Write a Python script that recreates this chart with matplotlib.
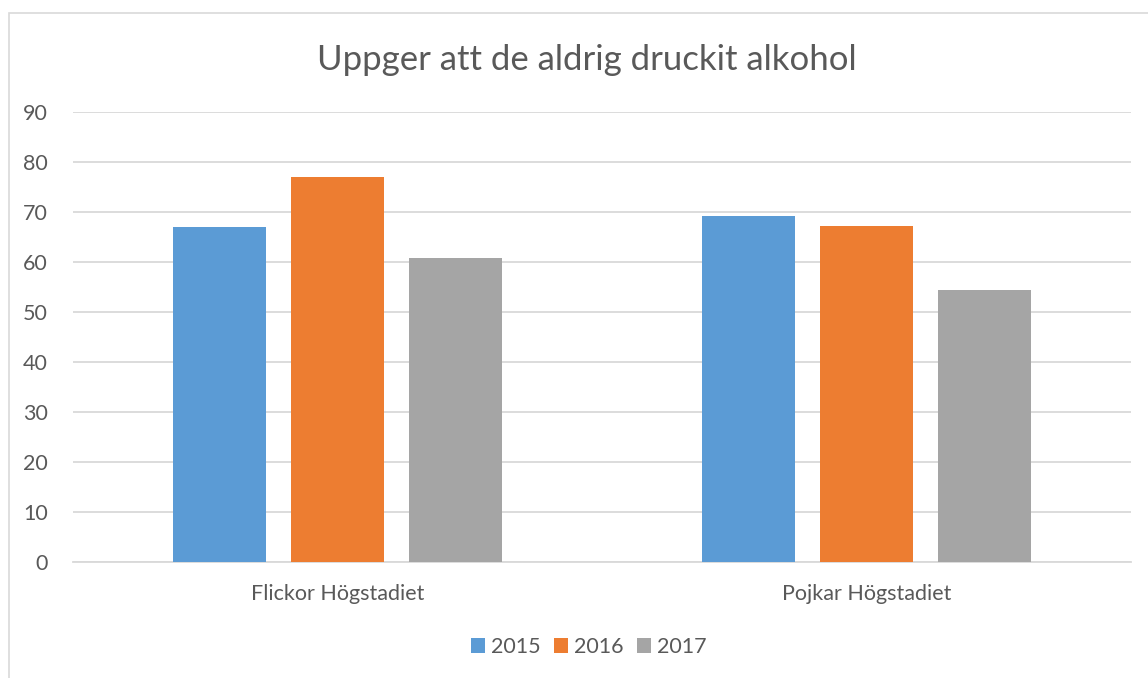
import matplotlib.pyplot as plt
import numpy as np
from matplotlib.patches import Rectangle

categories = ["Flickor Högstadiet", "Pojkar Högstadiet"]
years = ["2015", "2016", "2017"]
values_2015 = [67.0, 69.2]
values_2016 = [77.1, 67.3]
values_2017 = [60.8, 54.4]
colors = ["#5b9bd5", "#ed7d31", "#a5a5a5"]

plt.rcParams['font.family'] = ['Lato', 'DejaVu Sans']

fig = plt.figure(figsize=(11.48, 6.78), dpi=100)
ax = fig.add_axes([73 / 1148, 1 - 562 / 678, (1131 - 73) / 1148, 450 / 678])

# chart border
fig.patches.append(Rectangle((9 / 1148, -0.1), 1.2, 1 - 13 / 678 + 0.1,
                             transform=fig.transFigure, fill=False,
                             edgecolor="#d9d9d9", linewidth=1.2))

x = np.arange(len(categories))
width = 0.176
step = 0.223
for i, (vals, year) in enumerate(zip([values_2015, values_2016, values_2017], years)):
    ax.bar(x + (i - 1) * step, vals, width, color=colors[i], label=year, zorder=3)

ax.set_xlim(-0.5, 1.5)
ax.set_ylim(0, 90)
ax.set_yticks(range(0, 91, 10))
ax.yaxis.grid(True, color="#d9d9d9", linewidth=1.3, zorder=0)
ax.set_axisbelow(True)
for s in ["top", "right", "left"]:
    ax.spines[s].set_visible(False)
ax.spines["bottom"].set_color("#d9d9d9")
ax.spines["bottom"].set_linewidth(1.3)
ax.tick_params(length=0, labelsize=15.5, labelcolor="#595959")
ax.tick_params(axis="y", pad=18)
ax.tick_params(axis="x", pad=16)
ax.set_xticks(x)
ax.set_xticklabels(categories)

fig.text(587 / 1148, 1 - 60 / 678, "Uppger att de aldrig druckit alkohol",
         ha="center", va="center", fontsize=25, color="#595959")

fig.legend(loc="center", bbox_to_anchor=(589 / 1148, 1 - 647 / 678), ncol=3,
           frameon=False, fontsize=15.5, labelcolor="#595959",
           handlelength=0.65, handleheight=0.65, handletextpad=0.3, columnspacing=0.6)

fig.savefig("out.png", dpi=100)
